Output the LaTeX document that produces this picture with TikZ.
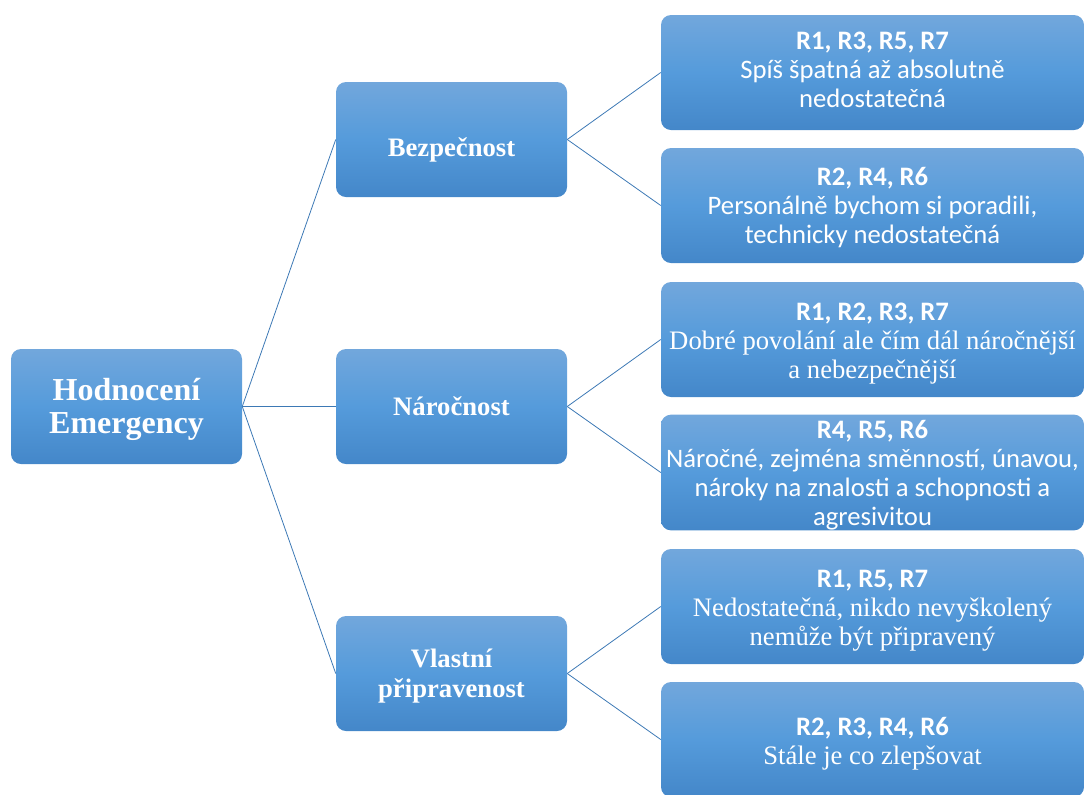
\documentclass[tikz,border=0pt]{standalone}
\usepackage{fontspec}
\setmainfont{Liberation Serif}
\newfontfamily\calibri{Carlito}
\usepackage{tikz}
\usetikzlibrary{positioning}
\definecolor{smartTop}{HTML}{72A7DC}
\definecolor{smartMid}{HTML}{559BDB}
\definecolor{smartBot}{HTML}{4487C9}
\colorlet{smartLine}{smartBot!90!black}
% text bloku (posunutý o kousek dolů, jako ve SmartArtu)
\newcommand{\btext}[2][-2.5pt]{\raisebox{#1}[\height][\depth]{\begin{tabular}{@{}c@{}}#2\end{tabular}}}

\begin{document}
\begin{tikzpicture}[
        x=0.75pt, y=-0.75pt,
        box/.style={rounded corners=7.5pt, text=white, inner sep=0pt, top color=smartTop, bottom color=smartBot, middle color=smartMid, minimum width=173.25pt, minimum height=86.25pt},
        root/.style={box, font=\bfseries\fontsize{24}{25}\selectfont},
        mid/.style={box, font=\bfseries\fontsize{20}{22.5}\selectfont},
        leaf/.style={box, minimum width=317.25pt, font=\calibri\fontsize{20}{21.7}\selectfont},
        conn/.style={draw=smartLine, line width=0.6pt}
    ]
        \useasboundingbox (0,0) rectangle (1085,794);

        % Kořen hierarchie (vlevo)
        \node[root] (hodn) at (126.5,406.5) {\btext[-3pt]{Hodnocení\\Emergency}};

        % Druhá úroveň (oblasti hodnocení)
        \node[mid] (bezp) at (451.5,139.5) {\btext[-8pt]{Bezpečnost}};
        \node[mid] (naro) at (451.5,406.5) {\btext[-2pt]{Náročnost}};
        \node[mid] (vlas) at (451.5,673.5) {\btext{Vlastní\\připravenost}};

        % Třetí úroveň (odpovědi respondentů, popisky Calibri / Times)
        \node[leaf] (bezp1) at (872.5,72.5) {\btext[0pt]{\bfseries R1, R3, R5, R7\\Spíš špatná až absolutně\\nedostatečná}};
        \node[leaf] (bezp2) at (872.5,205.5) {\btext{\bfseries R2, R4, R6\\Personálně bychom si poradili,\\technicky nedostatečná}};
        \node[leaf] (naro1) at (872.5,339.5) {\btext[-3pt]{\bfseries R1, R2, R3, R7\\\rmfamily Dobré povolání ale čím dál náročnější\\\rmfamily a nebezpečnější}};
        \node[leaf] (naro2) at (872.5,472.5) {\btext{\bfseries R4, R5, R6\\Náročné, zejména směnností, únavou,\\nároky na znalosti a schopnosti a\\agresivitou}};
        \node[leaf] (vlas1) at (872.5,606.5) {\btext[-3pt]{\bfseries R1, R5, R7\\\rmfamily Nedostatečná, nikdo nevyškolený\\\rmfamily nemůže být připravený}};
        \node[leaf] (vlas2) at (872.5,739.5) {\btext[-3.75pt]{\bfseries R2, R3, R4, R6\\\rmfamily Stále je co zlepšovat}};

        % Spojnice kořen -> oblasti
        \draw[conn] (hodn.east) -- (bezp.west);
        \draw[conn] (hodn.east) -- (naro.west);
        \draw[conn] (hodn.east) -- (vlas.west);

        % Spojnice oblasti -> odpovědi
        \draw[conn] (bezp.east) -- (bezp1.west);
        \draw[conn] (bezp.east) -- (bezp2.west);
        \draw[conn] (naro.east) -- (naro1.west);
        \draw[conn] (naro.east) -- (naro2.west);
        \draw[conn] (vlas.east) -- (vlas1.west);
        \draw[conn] (vlas.east) -- (vlas2.west);
    \end{tikzpicture}
\end{document}
